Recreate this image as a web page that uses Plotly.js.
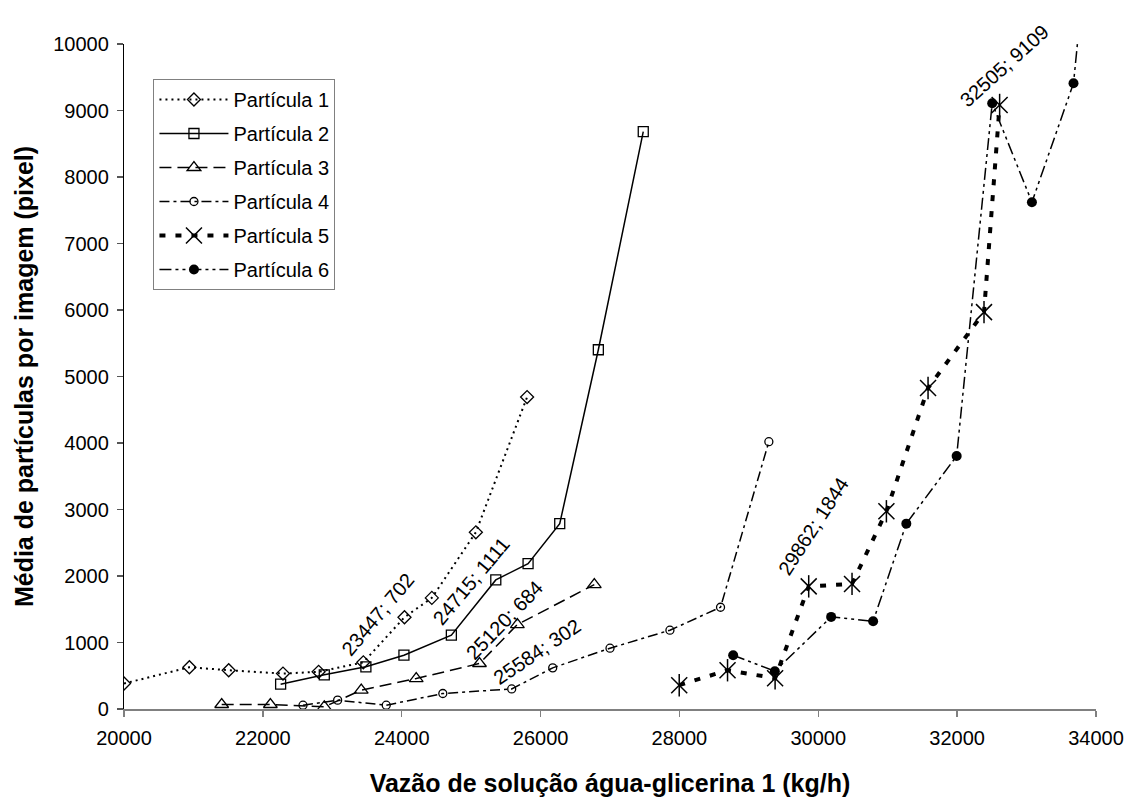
<!DOCTYPE html>
<html>
<head>
<meta charset="utf-8">
<script src="https://cdn.plot.ly/plotly-3.0.1.min.js"></script>
<style>html,body{margin:0;padding:0;background:#fff;}#chart{width:1129px;height:798px;}</style>
</head>
<body>
<div id="chart"></div>
<script>
const names = ["Partícula 1","Partícula 2","Partícula 3","Partícula 4","Partícula 5","Partícula 6"];
const x1 = [20000,20942,21508,22290,22803,23447,24040,24434,25068,25806];
const y1 = [383,628,583,533,559,702,1380,1671,2657,4691];
const x2 = [22256,22885,23484,24032,24715,25355,25820,26276,26832,27479];
const y2 = [373,514,634,809,1111,1941,2186,2787,5402,8682];
const x3 = [21407,22108,22885,23417,24209,25120,25666,26774];
const y3 = [68,68,33,283,458,684,1270,1871];
const x4 = [22578,23077,23777,24592,25584,26175,27000,27863,28592,29288];
const y4 = [57,133,57,233,302,619,914,1185,1530,4020];
const x5 = [27997,28693,29378,29862,30486,30981,31581,32387,32612];
const y5 = [358,583,463,1844,1881,2973,4826,5968,9083];
const x6 = [28774,29374,30185,30790,31268,31993,32505,33077,33676,33770];
const y6 = [809,568,1385,1320,2787,3805,9109,7621,9409,10400];
const xTitle = "Vazão de solução água-glicerina 1 (kg/h)";
const yTitle = "Média de partículas por imagem (pixel)";
// data-labelled points: [series index, point index]
const labelled = [[0,5],[1,4],[2,5],[3,4],[4,3],[5,6]];

const FONT = "Liberation Sans, Arial, sans-serif";
const xs = [x1,x2,x3,x4,x5,x6];
const ys = [y1,y2,y3,y4,y5,y6];

const styles = [
  {line:{color:'#000',width:2,dash:'2px,4px'}, marker:{symbol:'diamond-open',size:10,color:'#000',line:{width:1.3,color:'#000'}}},
  {line:{color:'#000',width:1.5,dash:'solid'}, marker:{symbol:'square-open',size:10,color:'#000',line:{width:1.3,color:'#000'}}},
  {line:{color:'#000',width:1.5,dash:'12px,6px'}, marker:{symbol:'triangle-up-open',size:12,color:'#000',line:{width:1.3,color:'#000'}}},
  {line:{color:'#000',width:1.5,dash:'10px,4px,3px,4px'}, marker:{symbol:'circle-open',size:8,color:'#000',line:{width:1.3,color:'#000'}}},
  {line:{color:'#000',width:4,dash:'6px,10px'}, marker:{symbol:'x-thin-open',size:16,color:'#000',line:{width:1.5,color:'#000'}}},
  {line:{color:'#000',width:1.5,dash:'12px,4px,3px,4px,3px,4px'}, marker:{symbol:'circle',size:10,color:'#000',line:{width:0,color:'#000'}}}
];

const traces = [];
for (let i = 0; i < 6; i++) {
  traces.push({
    type:'scatter', mode:'lines+markers', name:names[i],
    x:xs[i], y:ys[i], line:styles[i].line, marker:styles[i].marker,
    legendgroup:'g'+i, showlegend:true, hoverinfo:'x+y'
  });
  if (i === 4) {
    traces.push({
      type:'scatter', mode:'markers', name:names[i]+' (v)',
      x:xs[i], y:ys[i],
      marker:{symbol:'line-ns-open',size:16,color:'#000',line:{width:1.5,color:'#000'}},
      legendgroup:'g'+i, showlegend:false, hoverinfo:'skip'
    });
  }
}

// label offsets / angles (styling only)
const labelStyle = [
  {xs:15, ys:48, a:-50},
  {xs:20, ys:54, a:-50},
  {xs:25, ys:44, a:-46},
  {xs:25, ys:37, a:-34},
  {xs:5,  ys:60, a:-57},
  {xs:12, ys:37, a:-42}
];
const annotations = labelled.map((p, k) => {
  const xv = xs[p[0]][p[1]], yv = ys[p[0]][p[1]];
  return {
    x:xv, y:yv, xref:'x', yref:'y', text: xv + '; ' + yv, showarrow:false,
    xshift:labelStyle[k].xs, yshift:labelStyle[k].ys, textangle:labelStyle[k].a,
    font:{family:FONT,size:20,color:'#000'}
  };
});

const layout = {
  width:1129, height:798,
  margin:{l:124, r:33, t:44, b:89},
  paper_bgcolor:'#fff', plot_bgcolor:'#fff',
  font:{family:FONT, color:'#000', size:20},
  showlegend:true,
  legend:{
    x:0.0303, y:0.9474, xanchor:'left', yanchor:'top',
    bgcolor:'#fff', bordercolor:'#808080', borderwidth:1,
    font:{family:FONT,size:20,color:'#000'},
    traceorder:'grouped', tracegroupgap:5, itemwidth:69
  },
  xaxis:{
    range:[20000,34000], dtick:2000, tick0:20000, tickformat:'d',
    showline:true, linecolor:'#808080', linewidth:1.5,
    ticks:'outside', ticklen:6, tickcolor:'#808080', tickwidth:1.5,
    showgrid:false, zeroline:false,
    tickfont:{family:FONT,size:20,color:'#000'},
    ticklabelstandoff:4,
    title:{text:xTitle, font:{family:FONT,size:25,color:'#000',weight:'bold'}, standoff:27}
  },
  yaxis:{
    range:[0,10000], dtick:1000, tick0:0, tickformat:'d',
    showline:true, linecolor:'#000', linewidth:1.2,
    ticks:'outside', ticklen:6, tickcolor:'#555', tickwidth:1.2,
    showgrid:false, zeroline:false,
    tickfont:{family:FONT,size:20,color:'#000'},
    ticklabelstandoff:4,
    title:{text:yTitle, font:{family:FONT,size:25,color:'#000',weight:'bold'}, standoff:12}
  },
  annotations: annotations
};

Plotly.newPlot('chart', traces, layout, {staticPlot:true, displayModeBar:false});
</script>
</body>
</html>
